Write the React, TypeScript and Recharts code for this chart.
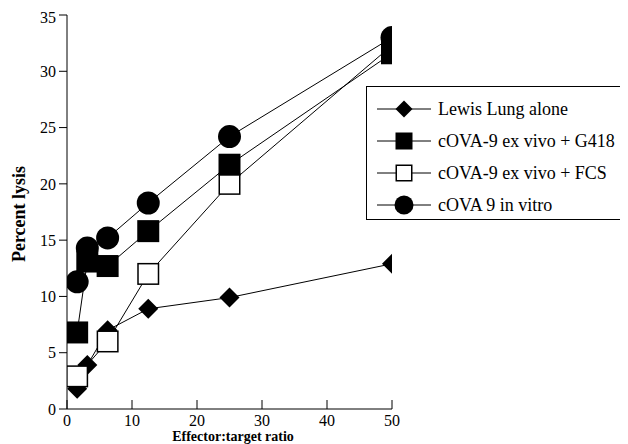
import React from 'react';
import { LineChart, Line, XAxis, YAxis, Customized } from 'recharts';

const ratios = [1.5625, 3.125, 6.25, 12.5, 25, 50];
const lewisLung = [1.8, 3.9, 7.0, 8.9, 9.9, 12.9];
const g418 = [6.8, 13.1, 12.7, 15.8, 21.7, 31.6];
const fcs = [2.9, null, 6.0, 12.0, 20.0, 32.3];
const inVitro = [11.3, 14.3, 15.2, 18.3, 24.2, 33.0];

const xTicks = [0, 10, 20, 30, 40, 50];
const yTicks = [0, 5, 10, 15, 20, 25, 30, 35];

const seriesNames = {
  lewis: 'Lewis Lung alone',
  g418: 'cOVA-9 ex vivo + G418',
  fcs: 'cOVA-9 ex vivo + FCS',
  vitro: 'cOVA 9 in vitro',
};

const data = ratios.map((r, i) => ({
  x: r,
  lewis: lewisLung[i],
  g418: g418[i],
  fcs: fcs[i],
  vitro: inVitro[i],
}));

const FONT = 'Liberation Serif, Times New Roman, serif';

type Shape = 'diamond' | 'square' | 'open' | 'circle';

const Marker = ({ cx, cy, shape, s }: { cx: number; cy: number; shape: Shape; s: number }) => {
  if (cx == null || cy == null || Number.isNaN(cx) || Number.isNaN(cy)) return null;
  if (shape === 'diamond') {
    return (
      <polygon
        points={`${cx},${cy - s} ${cx + s},${cy} ${cx},${cy + s} ${cx - s},${cy}`}
        fill="#000"
      />
    );
  }
  if (shape === 'square') {
    return <rect x={cx - s} y={cy - s} width={2 * s} height={2 * s} fill="#000" />;
  }
  if (shape === 'open') {
    return (
      <rect
        x={cx - s + 0.75}
        y={cy - s + 0.75}
        width={2 * s - 1.5}
        height={2 * s - 1.5}
        fill="#fff"
        stroke="#000"
        strokeWidth={1.5}
      />
    );
  }
  return <circle cx={cx} cy={cy} r={s} fill="#000" />;
};

const makeDot = (shape: Shape, s: number) => (props: any) => {
  const { cx, cy, key, index, value } = props;
  if (value == null) return <g key={key ?? index} />;
  return (
    <g key={key ?? index}>
      <Marker cx={cx} cy={cy} shape={shape} s={s} />
    </g>
  );
};

const XTick = (props: any) => {
  const { x, y, payload } = props;
  return (
    <g>
      <line x1={x} y1={y} x2={x} y2={y - 9} stroke="#000" strokeWidth={1} />
      <text x={x} y={y + 17} textAnchor="middle" fontFamily={FONT} fontSize={16} fill="#000">
        {payload.value}
      </text>
    </g>
  );
};

const legendItems: { key: keyof typeof seriesNames; shape: Shape; s: number }[] = [
  { key: 'lewis', shape: 'diamond', s: 8.5 },
  { key: 'g418', shape: 'square', s: 8.5 },
  { key: 'fcs', shape: 'open', s: 8.5 },
  { key: 'vitro', shape: 'circle', s: 9.5 },
];

const LegendBox = () => (
  <div
    style={{
      position: 'absolute',
      left: 358,
      top: 78,
      width: 262,
      height: 134,
      borderTop: '1px solid #000',
      borderLeft: '1px solid #000',
      borderBottom: '1px solid #000',
      boxSizing: 'border-box',
      background: '#fff',
      paddingTop: 6,
      fontFamily: FONT,
    }}
  >
    {legendItems.map((it) => (
      <div key={it.key} style={{ height: 32, display: 'flex', alignItems: 'center' }}>
        <svg width={71} height={32} style={{ display: 'block', flex: 'none' }}>
          <line x1={10} y1={16} x2={64} y2={16} stroke="#000" strokeWidth={1} />
          <Marker cx={37} cy={16} shape={it.shape} s={it.s} />
        </svg>
        <span style={{ fontSize: 18, color: '#000', whiteSpace: 'nowrap', lineHeight: '32px' }}>
          {seriesNames[it.key]}
        </span>
      </div>
    ))}
  </div>
);

const Titles = () => (
  <g>
    <text
      x={17}
      y={206}
      transform="rotate(-90, 17, 206)"
      textAnchor="middle"
      fontFamily={FONT}
      fontWeight="bold"
      fontSize={18}
      fill="#000"
    >
      Percent lysis
    </text>
    <text
      x={225}
      y={433}
      textAnchor="middle"
      fontFamily={FONT}
      fontWeight="bold"
      fontSize={14}
      fill="#000"
    >
      Effector:target ratio
    </text>
  </g>
);

export default function App() {
  return (
    <div style={{ position: 'relative', width: 620, height: 436 }}>
      <LineChart
        width={620}
        height={436}
        data={data}
        margin={{ top: 7, right: 236, left: 9, bottom: 5 }}
      >
        <XAxis
          dataKey="x"
          type="number"
          domain={[0, 50]}
          ticks={xTicks}
          tick={<XTick />}
          tickLine={false}
          tickSize={0}
          tickMargin={0}
          height={30}
          axisLine={{ stroke: '#000', strokeWidth: 1 }}
          allowDataOverflow
        />
        <YAxis
          type="number"
          domain={[0, 35]}
          ticks={yTicks}
          width={50}
          tickSize={8}
          tickMargin={3}
          tick={{ fill: '#000', fontSize: 16, fontFamily: FONT }}
          tickLine={{ stroke: '#000' }}
          axisLine={{ stroke: '#000', strokeWidth: 1 }}
        />
        <Line dataKey="lewis" stroke="#000" strokeWidth={1} dot={makeDot('diamond', 10)} activeDot={false} isAnimationActive={false} />
        <Line dataKey="fcs" stroke="#000" strokeWidth={1} dot={makeDot('open', 11)} activeDot={false} connectNulls isAnimationActive={false} />
        <Line dataKey="g418" stroke="#000" strokeWidth={1} dot={makeDot('square', 11)} activeDot={false} isAnimationActive={false} />
        <Line dataKey="vitro" stroke="#000" strokeWidth={1} dot={makeDot('circle', 11.5)} activeDot={false} isAnimationActive={false} />
        <Customized component={Titles} />
      </LineChart>
      <LegendBox />
    </div>
  );
}
